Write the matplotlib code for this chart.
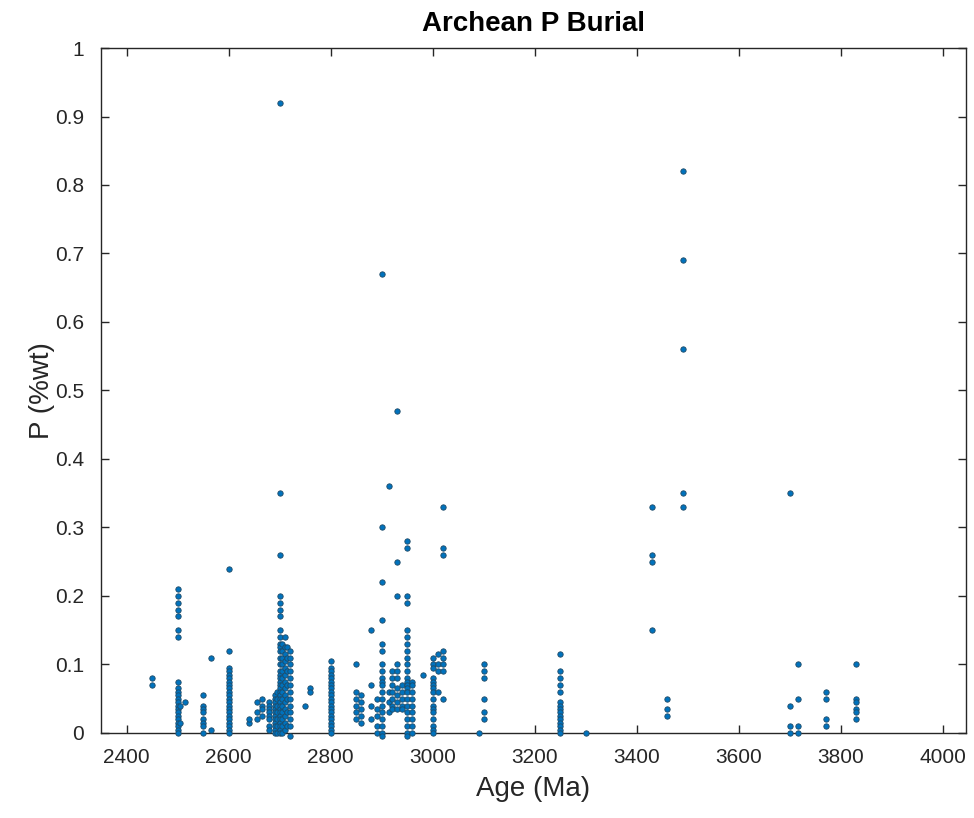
import numpy as np
import matplotlib
matplotlib.use("Agg")
from matplotlib import pyplot as plt

# age columns (Ma) and the P values (%wt) at each one
ages = [2450, 2500, 2505, 2515, 2550, 2565, 2600, 2640, 2655, 2665,
        2680, 2690, 2695, 2700, 2705, 2710, 2715, 2720, 2750, 2760,
        2800, 2850, 2860, 2880, 2890, 2900, 2915, 2920, 2930, 2940,
        2950, 2960, 2980, 3000, 3010, 3020, 3090, 3100, 3250, 3300,
        3430, 3460, 3490, 3700, 3715, 3770, 3830]

p_vals = [
    [0.08, 0.07],
    [0.21, 0.20, 0.19, 0.18, 0.17, 0.15, 0.14, 0.075, 0.065, 0.06, 0.055, 0.05,
     0.045, 0.04, 0.035, 0.03, 0.025, 0.02, 0.015, 0.01, 0.005, 0.0],
    [0.04, 0.015],
    [0.045],
    [0.055, 0.04, 0.035, 0.03, 0.02, 0.015, 0.01, 0.0],
    [0.11, 0.005],
    [0.24, 0.12, 0.095, 0.09, 0.085, 0.08, 0.075, 0.07, 0.065, 0.06, 0.055, 0.05,
     0.045, 0.04, 0.035, 0.03, 0.025, 0.02, 0.015, 0.01, 0.005, 0.0],
    [0.015, 0.02],
    [0.045, 0.03, 0.02],
    [0.05, 0.04, 0.035, 0.025],
    [0.045, 0.04, 0.035, 0.03, 0.025, 0.02, 0.01, 0.005],
    [0.055, 0.05, 0.045, 0.04, 0.035, 0.03, 0.025, 0.02, 0.015, 0.01, 0.005, 0.0],
    [0.06, 0.05, 0.04, 0.03, 0.02, 0.01, 0.0],
    [0.92, 0.35, 0.26, 0.20, 0.19, 0.18, 0.17, 0.15, 0.14, 0.13, 0.125, 0.12,
     0.11, 0.10, 0.09, 0.085, 0.08, 0.075, 0.07, 0.065, 0.06, 0.055, 0.05, 0.045,
     0.04, 0.035, 0.03, 0.025, 0.02, 0.015, 0.01, 0.005, 0.0],
    [0.13, 0.12, 0.11, 0.10, 0.09, 0.08, 0.07, 0.06, 0.05, 0.04, 0.03, 0.02, 0.01, 0.0],
    [0.14, 0.125, 0.115, 0.105, 0.095, 0.085, 0.075, 0.065, 0.055, 0.045, 0.035,
     0.025, 0.015, 0.005],
    [0.125, 0.11, 0.09, 0.07, 0.05, 0.03, 0.01],
    [0.12, 0.11, 0.10, 0.09, 0.08, 0.07, 0.06, 0.05, 0.04, 0.03, 0.02, 0.01, -0.005],
    [0.04],
    [0.065, 0.06],
    [0.105, 0.095, 0.09, 0.085, 0.08, 0.075, 0.07, 0.065, 0.06, 0.055, 0.05, 0.045,
     0.04, 0.035, 0.03, 0.025, 0.02, 0.015, 0.01, 0.005, 0.0],
    [0.10, 0.06, 0.05, 0.04, 0.03, 0.02],
    [0.055, 0.045, 0.035, 0.025, 0.015],
    [0.15, 0.07, 0.04, 0.02],
    [0.05, 0.035, 0.025, 0.01, 0.0],
    [0.67, 0.30, 0.22, 0.165, 0.13, 0.12, 0.10, 0.09, 0.08, 0.075, 0.07, 0.06, 0.05,
     0.04, 0.03, 0.02, 0.01, 0.0, -0.005],
    [0.36, 0.06, 0.045, 0.03],
    [0.09, 0.08, 0.07, 0.06, 0.05, 0.04, 0.035],
    [0.47, 0.25, 0.20, 0.10, 0.09, 0.08, 0.065, 0.055, 0.045, 0.035],
    [0.07, 0.06, 0.05, 0.04, 0.035],
    [0.28, 0.27, 0.20, 0.19, 0.15, 0.14, 0.13, 0.12, 0.11, 0.10, 0.09, 0.08, 0.075,
     0.07, 0.065, 0.06, 0.05, 0.04, 0.03, 0.02, 0.01, 0.0, -0.005],
    [0.075, 0.07, 0.06, 0.05, 0.04, 0.03, 0.02, 0.01, 0.0],
    [0.085],
    [0.11, 0.10, 0.095, 0.08, 0.075, 0.07, 0.065, 0.06, 0.05, 0.04, 0.035, 0.03,
     0.02, 0.01, 0.005, 0.0],
    [0.115, 0.10, 0.09, 0.06],
    [0.33, 0.27, 0.26, 0.12, 0.11, 0.10, 0.09, 0.05],
    [0.0],
    [0.10, 0.09, 0.08, 0.05, 0.03, 0.02],
    [0.115, 0.09, 0.08, 0.07, 0.06, 0.045, 0.04, 0.035, 0.03, 0.025, 0.02, 0.015,
     0.01, 0.005, 0.0],
    [0.0],
    [0.33, 0.26, 0.25, 0.15],
    [0.05, 0.035, 0.025],
    [0.82, 0.69, 0.56, 0.35, 0.33],
    [0.35, 0.04, 0.01, 0.0],
    [0.10, 0.05, 0.01, 0.0],
    [0.06, 0.05, 0.02, 0.01],
    [0.10, 0.05, 0.045, 0.035, 0.03, 0.02],
]

x = np.concatenate([[a] * len(v) for a, v in zip(ages, p_vals)])
y = np.concatenate(p_vals)

plt.rcParams['font.family'] = ['Liberation Sans', 'DejaVu Sans']
fig = plt.figure(figsize=(9.74, 8.18), dpi=100)
ax = fig.add_axes([0.1037, 0.104, 0.8881, 0.8373])

ax.scatter(x, y, s=15, facecolor='#0072BD', edgecolor='#1f4a66', linewidths=0.6,
           zorder=3, clip_on=False)

ax.set_xlim(2350, 4045)
ax.set_ylim(0, 1)
ax.set_xticks(np.arange(2400, 4001, 200))
ax.set_yticks(np.arange(0, 1.01, 0.1))
ax.set_yticklabels(['0'] + ['%g' % t for t in np.arange(0.1, 1.01, 0.1)])

dark = '#262626'
for sp in ax.spines.values():
    sp.set_color(dark)
    sp.set_linewidth(1.0)
ax.tick_params(direction='in', top=True, right=True, length=6, width=1.0,
               colors=dark, labelsize=15)
ax.tick_params(axis='x', pad=11)
ax.tick_params(axis='y', pad=12)

ax.set_xlabel('Age (Ma)', fontsize=20, color=dark, labelpad=6)
ax.set_ylabel('P (%wt)', fontsize=20, color=dark, labelpad=0)
ax.set_title('Archean P Burial', fontsize=20, fontweight='bold', color='black', pad=12)

fig.savefig('out.png', dpi=100)
